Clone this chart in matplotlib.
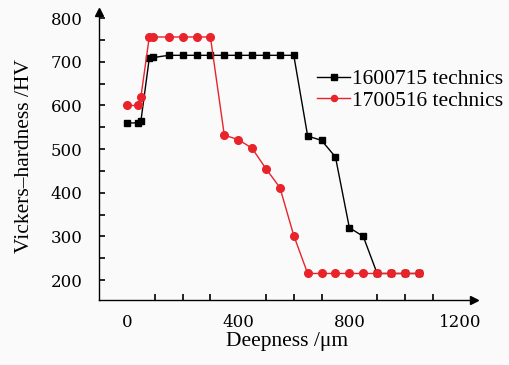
import numpy as np
import matplotlib.pyplot as plt

plt.rcParams['font.family'] = ['DejaVu Serif']
plt.rcParams['mathtext.fontset'] = 'dejavuserif'

# 1600715 technics (black squares)
depth_a = [0, 40, 50, 80, 95, 150, 200, 250, 300, 350, 400, 450, 500, 550, 600,
           650, 700, 750, 800, 850, 900, 950, 1000, 1050]
hv_a = [560, 560, 565, 708, 710, 715, 715, 715, 715, 715, 715, 715, 715, 715, 715,
        530, 520, 482, 320, 300, 215, 215, 215, 215]

# 1700516 technics (red circles)
depth_b = [0, 40, 50, 80, 95, 150, 200, 250, 300, 350, 400, 450, 500, 550, 600,
           650, 700, 750, 800, 850, 900, 950, 1000, 1050]
hv_b = [600, 600, 620, 757, 757, 757, 757, 757, 757, 532, 522, 502, 455, 412, 302,
        215, 215, 215, 215, 215, 215, 215, 215, 215]

labels = ['1600715 technics', '1700516 technics']
serif2 = ['Liberation Serif', 'DejaVu Serif']

fig = plt.figure(figsize=(5.09, 3.65), dpi=100)
fig.patch.set_facecolor('#fafafa')
ax = fig.add_axes([0.195, 0.179, 0.737, 0.789])
ax.set_facecolor('#fafafa')

ax.plot(depth_a, hv_a, '-s', color='black', lw=1.0, ms=5, label=labels[0])
ax.plot(depth_b, hv_b, '-o', color='#e8232a', lw=1.0, ms=5.5, label=labels[1])

ax.set_xlim(-100, 1250)
ax.set_ylim(155, 815)
ax.set_xticks(np.arange(0, 1101, 100), minor=True)
ax.set_xticks([0, 400, 800, 1200])
ax.set_yticks(np.arange(200, 801, 100))
ax.set_yticks(np.arange(200, 801, 50), minor=True)
ax.tick_params(which='both', direction='in', length=4, width=1.2, labelsize=12)
ax.tick_params(axis='x', which='major', length=0)
ax.tick_params(axis='x', which='minor', length=4)
ax.tick_params(axis='y', pad=12)
ax.tick_params(axis='x', pad=10)

for s in ['top', 'right']:
    ax.spines[s].set_visible(False)
for s in ['left', 'bottom']:
    ax.spines[s].set_linewidth(1.0)

# arrow heads on axes
ax.plot(1, 0, '>', color='black', ms=6, transform=ax.transAxes, clip_on=False)
ax.plot(0, 1, '^', color='black', ms=6, transform=ax.transAxes, clip_on=False)

ax.set_xlabel('Deepness /\u03bcm', fontsize=15.5, family=serif2, labelpad=1)
ax.set_ylabel('Vickers\u2013hardness /HV', fontsize=15.5, family=serif2, labelpad=12)

ax.legend(loc='upper left', bbox_to_anchor=(0.623, 0.81), bbox_transform=fig.transFigure,
          frameon=False, prop={'family': serif2, 'size': 15.5}, numpoints=1,
          handlelength=1.55, handletextpad=0.05, labelspacing=0.05,
          borderaxespad=0, borderpad=0, markerscale=0.8)

fig.savefig('out.png', dpi=100, facecolor=fig.get_facecolor())
